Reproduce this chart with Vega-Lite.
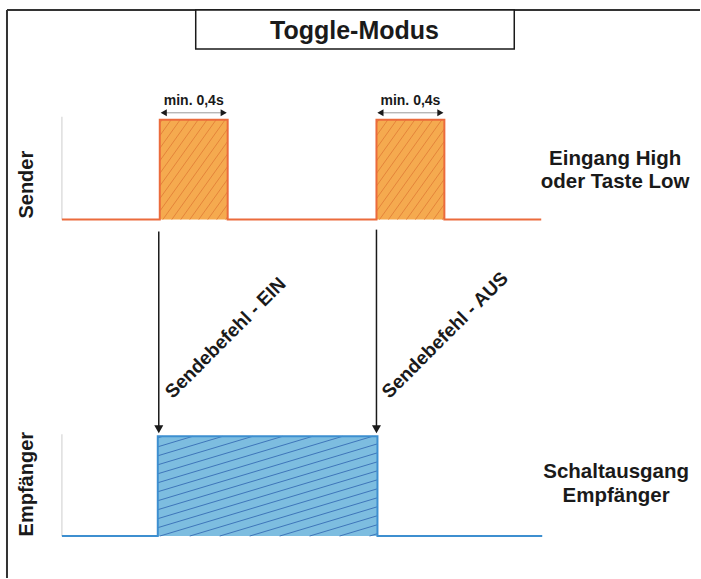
{
  "$schema": "https://vega.github.io/schema/vega-lite/v6.json",
  "width": 701,
  "height": 579,
  "autosize": {"type": "fit", "contains": "padding"},
  "padding": 0,
  "background": "white",
  "config": {"view": {"stroke": null}, "text": {"font": "Liberation Sans", "fontWeight": "bold", "color": "#1a1a1a"}},
  "datasets": {
    "frame": [{"x": 7, "y": 10, "x2": 701, "y2": 10}, {"x": 7, "y": 10, "x2": 7, "y2": 579}],
    "grayAxes": [{"x": 62, "y": 117, "x2": 62, "y2": 220}, {"x": 62, "y": 435, "x2": 62, "y2": 537}],
    "senderPulses": [{"x": 160, "x2": 228, "y": 120, "y2": 220}, {"x": 377, "x2": 445, "y": 120, "y2": 220}],
    "senderHatch": [
      {"x": 160, "y": 123.4, "x2": 162.4, "y2": 120},
      {"x": 160, "y": 136, "x2": 171.4, "y2": 120},
      {"x": 160, "y": 148.6, "x2": 180.4, "y2": 120},
      {"x": 160, "y": 161.2, "x2": 189.4, "y2": 120},
      {"x": 160, "y": 173.8, "x2": 198.4, "y2": 120},
      {"x": 160, "y": 186.4, "x2": 207.4, "y2": 120},
      {"x": 160, "y": 199, "x2": 216.4, "y2": 120},
      {"x": 160, "y": 211.6, "x2": 225.4, "y2": 120},
      {"x": 163, "y": 220, "x2": 228, "y2": 129},
      {"x": 172, "y": 220, "x2": 228, "y2": 141.6},
      {"x": 181, "y": 220, "x2": 228, "y2": 154.2},
      {"x": 190, "y": 220, "x2": 228, "y2": 166.8},
      {"x": 199, "y": 220, "x2": 228, "y2": 179.4},
      {"x": 208, "y": 220, "x2": 228, "y2": 192},
      {"x": 217, "y": 220, "x2": 228, "y2": 204.6},
      {"x": 226, "y": 220, "x2": 228, "y2": 217.2},
      {"x": 377, "y": 123.4, "x2": 379.4, "y2": 120},
      {"x": 377, "y": 136, "x2": 388.4, "y2": 120},
      {"x": 377, "y": 148.6, "x2": 397.4, "y2": 120},
      {"x": 377, "y": 161.2, "x2": 406.4, "y2": 120},
      {"x": 377, "y": 173.8, "x2": 415.4, "y2": 120},
      {"x": 377, "y": 186.4, "x2": 424.4, "y2": 120},
      {"x": 377, "y": 199, "x2": 433.4, "y2": 120},
      {"x": 377, "y": 211.6, "x2": 442.4, "y2": 120},
      {"x": 380, "y": 220, "x2": 445, "y2": 129},
      {"x": 389, "y": 220, "x2": 445, "y2": 141.6},
      {"x": 398, "y": 220, "x2": 445, "y2": 154.2},
      {"x": 407, "y": 220, "x2": 445, "y2": 166.8},
      {"x": 416, "y": 220, "x2": 445, "y2": 179.4},
      {"x": 425, "y": 220, "x2": 445, "y2": 192},
      {"x": 434, "y": 220, "x2": 445, "y2": 204.6},
      {"x": 443, "y": 220, "x2": 445, "y2": 217.2}
    ],
    "senderLine": [
      {"i": 0, "x": 62, "y": 220}, {"i": 1, "x": 160, "y": 220}, {"i": 2, "x": 160, "y": 120},
      {"i": 3, "x": 228, "y": 120}, {"i": 4, "x": 228, "y": 220}, {"i": 5, "x": 377, "y": 220},
      {"i": 6, "x": 377, "y": 120}, {"i": 7, "x": 445, "y": 120}, {"i": 8, "x": 445, "y": 220},
      {"i": 9, "x": 542, "y": 220}
    ],
    "receiverPulse": [{"x": 158, "x2": 378, "y": 437, "y2": 537}],
    "receiverHatch": [
      {"x": 158, "y": 438.6, "x2": 163.3, "y2": 437},
      {"x": 158, "y": 447.6, "x2": 193.3, "y2": 437},
      {"x": 158, "y": 456.6, "x2": 223.3, "y2": 437},
      {"x": 158, "y": 465.6, "x2": 253.3, "y2": 437},
      {"x": 158, "y": 474.6, "x2": 283.3, "y2": 437},
      {"x": 158, "y": 483.6, "x2": 313.3, "y2": 437},
      {"x": 158, "y": 492.6, "x2": 343.3, "y2": 437},
      {"x": 158, "y": 501.6, "x2": 373.3, "y2": 437},
      {"x": 158, "y": 510.6, "x2": 378, "y2": 444.6},
      {"x": 158, "y": 519.6, "x2": 378, "y2": 453.6},
      {"x": 158, "y": 528.6, "x2": 378, "y2": 462.6},
      {"x": 160, "y": 537, "x2": 378, "y2": 471.6},
      {"x": 190, "y": 537, "x2": 378, "y2": 480.6},
      {"x": 220, "y": 537, "x2": 378, "y2": 489.6},
      {"x": 250, "y": 537, "x2": 378, "y2": 498.6},
      {"x": 280, "y": 537, "x2": 378, "y2": 507.6},
      {"x": 310, "y": 537, "x2": 378, "y2": 516.6},
      {"x": 340, "y": 537, "x2": 378, "y2": 525.6},
      {"x": 370, "y": 537, "x2": 378, "y2": 534.6}
    ],
    "receiverLine": [
      {"i": 0, "x": 62, "y": 537}, {"i": 1, "x": 158, "y": 537}, {"i": 2, "x": 158, "y": 437},
      {"i": 3, "x": 378, "y": 437}, {"i": 4, "x": 378, "y": 537}, {"i": 5, "x": 543, "y": 537}
    ],
    "titleBox": [{"x": 196, "x2": 515, "y": 10, "y2": 49}],
    "title": [{"x": 355, "y": 39, "text": "Toggle-Modus"}],
    "minRules": [{"x": 162, "x2": 226, "y": 113, "y2": 113}, {"x": 379, "x2": 443, "y": 113, "y2": 113}],
    "minHeadsLeft": [{"x": 164, "y": 113}, {"x": 381, "y": 113}],
    "minHeadsRight": [{"x": 224, "y": 113}, {"x": 441, "y": 113}],
    "minLabels": [{"x": 194, "y": 105, "text": "min. 0,4s"}, {"x": 411, "y": 105, "text": "min. 0,4s"}],
    "cmdRules": [{"x": 159, "y": 232, "x2": 159, "y2": 428}, {"x": 377, "y": 230, "x2": 377, "y2": 428}],
    "cmdHeads": [{"x": 159, "y": 430}, {"x": 377, "y": 430}],
    "cmdLabels": [{"x": 173, "y": 400, "text": "Sendebefehl - EIN"}, {"x": 390, "y": 400, "text": "Sendebefehl - AUS"}],
    "sideLabels": [{"x": 33, "y": 185, "text": "Sender"}, {"x": 33, "y": 485, "text": "Empfänger"}],
    "rightLabels": [
      {"x": 616, "y": 165, "text": "Eingang High"},
      {"x": 616, "y": 188, "text": "oder Taste Low"},
      {"x": 617, "y": 479, "text": "Schaltausgang"},
      {"x": 617, "y": 503, "text": "Empfänger"}
    ]
  },
  "encoding": {
    "x": {"field": "x", "type": "quantitative", "scale": {"domain": [0, 701], "nice": false, "zero": false}, "axis": null},
    "y": {"field": "y", "type": "quantitative", "scale": {"domain": [0, 579], "nice": false, "zero": false, "reverse": true}, "axis": null}
  },
  "layer": [
    {"data": {"name": "frame"}, "mark": {"type": "rule", "color": "#333333", "strokeWidth": 2}, "encoding": {"x2": {"field": "x2"}, "y2": {"field": "y2"}}},
    {"data": {"name": "grayAxes"}, "mark": {"type": "rule", "color": "#d6d6d6", "strokeWidth": 1.2}, "encoding": {"x2": {"field": "x2"}, "y2": {"field": "y2"}}},
    {"data": {"name": "senderPulses"}, "mark": {"type": "rect", "fill": "#F5AA4F"}, "encoding": {"x2": {"field": "x2"}, "y2": {"field": "y2"}}},
    {"data": {"name": "senderHatch"}, "mark": {"type": "rule", "color": "#E07A35", "strokeWidth": 0.8}, "encoding": {"x2": {"field": "x2"}, "y2": {"field": "y2"}}},
    {"data": {"name": "senderLine"}, "mark": {"type": "line", "color": "#EB6B3C", "strokeWidth": 2}, "encoding": {"order": {"field": "i"}}},
    {"data": {"name": "receiverPulse"}, "mark": {"type": "rect", "fill": "#7DBDE0"}, "encoding": {"x2": {"field": "x2"}, "y2": {"field": "y2"}}},
    {"data": {"name": "receiverHatch"}, "mark": {"type": "rule", "color": "#2E63B0", "strokeWidth": 0.8}, "encoding": {"x2": {"field": "x2"}, "y2": {"field": "y2"}}},
    {"data": {"name": "receiverLine"}, "mark": {"type": "line", "color": "#3D8FD0", "strokeWidth": 2}, "encoding": {"order": {"field": "i"}}},
    {"data": {"name": "titleBox"}, "mark": {"type": "rect", "fill": "white", "stroke": "#1a1a1a", "strokeWidth": 1.5}, "encoding": {"x2": {"field": "x2"}, "y2": {"field": "y2"}}},
    {"data": {"name": "title"}, "mark": {"type": "text", "fontSize": 25, "align": "center", "baseline": "alphabetic"}, "encoding": {"text": {"field": "text"}}},
    {"data": {"name": "minRules"}, "mark": {"type": "rule", "color": "#9a9a9a", "strokeWidth": 1}, "encoding": {"x2": {"field": "x2"}, "y2": {"field": "y2"}}},
    {"data": {"name": "minHeadsLeft"}, "mark": {"type": "point", "shape": "triangle-left", "filled": true, "color": "#1a1a1a", "size": 50, "opacity": 1}},
    {"data": {"name": "minHeadsRight"}, "mark": {"type": "point", "shape": "triangle-right", "filled": true, "color": "#1a1a1a", "size": 50, "opacity": 1}},
    {"data": {"name": "minLabels"}, "mark": {"type": "text", "fontSize": 14, "align": "center", "baseline": "alphabetic"}, "encoding": {"text": {"field": "text"}}},
    {"data": {"name": "cmdRules"}, "mark": {"type": "rule", "color": "#1a1a1a", "strokeWidth": 1.5}, "encoding": {"x2": {"field": "x2"}, "y2": {"field": "y2"}}},
    {"data": {"name": "cmdHeads"}, "mark": {"type": "point", "shape": "triangle-down", "filled": true, "color": "#1a1a1a", "size": 81, "opacity": 1}},
    {"data": {"name": "cmdLabels"}, "mark": {"type": "text", "fontSize": 19, "angle": -45, "align": "left", "baseline": "alphabetic"}, "encoding": {"text": {"field": "text"}}},
    {"data": {"name": "sideLabels"}, "mark": {"type": "text", "fontSize": 20, "angle": -90, "align": "center", "baseline": "alphabetic"}, "encoding": {"text": {"field": "text"}}},
    {"data": {"name": "rightLabels"}, "mark": {"type": "text", "fontSize": 20.5, "align": "center", "baseline": "alphabetic"}, "encoding": {"text": {"field": "text"}}}
  ]
}
